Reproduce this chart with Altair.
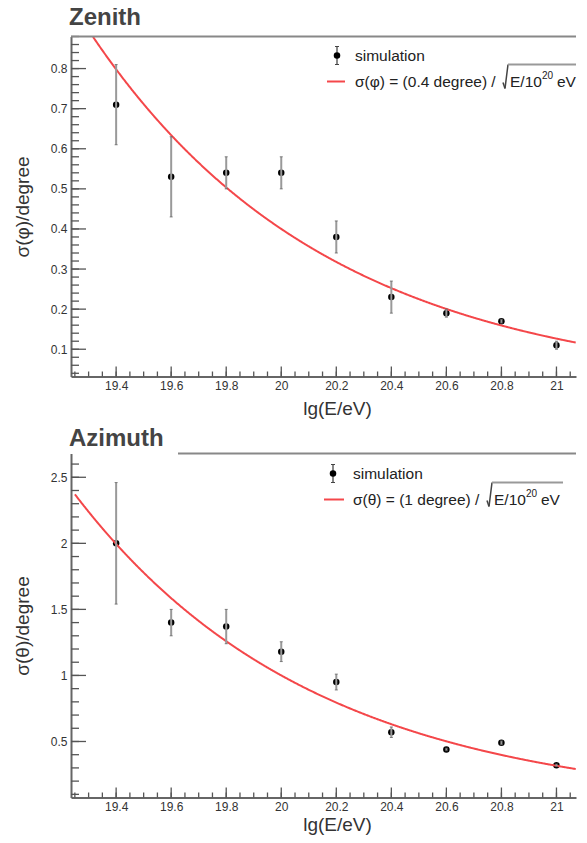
import altair as alt
import pandas as pd

# ---------------- data ----------------
energies = [19.4, 19.6, 19.8, 20.0, 20.2, 20.4, 20.6, 20.8, 21.0]

zen_sigma = [0.71, 0.53, 0.54, 0.54, 0.38, 0.23, 0.19, 0.17, 0.11]
zen_err = [0.10, 0.10, 0.04, 0.04, 0.04, 0.04, 0.01, 0.005, 0.01]

azi_sigma = [2.00, 1.40, 1.37, 1.18, 0.95, 0.57, 0.44, 0.49, 0.32]
azi_err = [0.46, 0.10, 0.13, 0.075, 0.06, 0.04, 0.01, 0.015, 0.01]

# fitted function sigma = a / sqrt(E / 1e20 eV), a in degrees (from the legend)
fit_norm = [0.4, 1.0]
fit_range = [19.25, 21.071]

# axis ticks
x_major = [19.4, 19.6, 19.8, 20.0, 20.2, 20.4, 20.6, 20.8, 21.0]
x_minor = [round(19.25 + 0.05 * i, 2) for i in range(37)]
zen_ymajor = [0.1, 0.2, 0.3, 0.4, 0.5, 0.6, 0.7, 0.8]
zen_yminor = [round(0.04 + 0.02 * i, 2) for i in range(43)]
azi_ymajor = [0.5, 1.0, 1.5, 2.0, 2.5]
azi_yminor = [round(0.1 * i, 1) for i in range(1, 27)]

x_domain = [19.236, 21.071]
zen_ydomain = [0.032, 0.88]
azi_ydomain = [0.076, 2.68]

FONT = "Liberation Sans"
W = 505
RED = "#f4474a"
AXIS_GRAY = "#666666"
TICK_GRAY = "#555555"
TXT = "#222222"


def panel(name, sig, err, norm, ydom, ymajor, yminor, ytitle, H, L, formula_head,
          xtitle_y, title_offset):
    df = pd.DataFrame({
        "lgE": energies,
        "sigma": sig,
        "lo": [s - e for s, e in zip(sig, err)],
        "hi": [s + e for s, e in zip(sig, err)],
    })
    xs = alt.Scale(domain=x_domain, nice=False, zero=False)
    ys = alt.Scale(domain=ydom, nice=False, zero=False)
    xaxis = alt.Axis(
        values=x_major, format="~g", ticks=False, tickSize=0, labelPadding=4,
        labelOverlap=False, labelFlush=False, title="lg(E/eV)", titleX=266,
        titleY=xtitle_y, titleBaseline="middle", titleAnchor="middle",
    )
    yaxis = alt.Axis(
        values=ymajor, format="~g", ticks=False, tickSize=0, labelPadding=4,
        labelOverlap=False, labelFlush=False, title=ytitle, titleX=-49,
        titleBaseline="middle",
    )

    def X(f):
        return alt.X(f, type="quantitative", scale=xs, axis=xaxis)

    def Y(f):
        return alt.Y(f, type="quantitative", scale=ys, axis=yaxis)

    # inward ticks, placed through the scales
    def xt(vals, length):
        return alt.Chart(pd.DataFrame({"v": vals})).mark_rule(color=TICK_GRAY, strokeWidth=1.3).encode(
            x=X("v"), y=alt.value(H), y2=alt.value(H - length))

    def yt(vals, length):
        return alt.Chart(pd.DataFrame({"v": vals})).mark_rule(color=TICK_GRAY, strokeWidth=1.3).encode(
            y=Y("v"), x=alt.value(0), x2=alt.value(length))

    base = alt.Chart(df)
    points = base.mark_point(filled=True, color="black", size=42, opacity=1).encode(
        x=X("lgE"), y=Y("sigma"))
    errbars = base.mark_rule(color="#999999", strokeWidth=2).encode(
        x=X("lgE"), y=Y("lo"), y2="hi")
    cap_lo = base.mark_tick(color="#555555", size=3, thickness=1, orient="horizontal").encode(
        x=X("lgE"), y=Y("lo"))
    cap_hi = base.mark_tick(color="#555555", size=3, thickness=1, orient="horizontal").encode(
        x=X("lgE"), y=Y("hi"))

    curve = alt.Chart(alt.sequence(fit_range[0], fit_range[1], 0.002, as_="lgE")).transform_calculate(
        sigma=f"{norm} / sqrt(pow(10, datum.lgE - 20))"
    ).transform_filter(
        f"datum.sigma <= {ydom[1]}"
    ).mark_line(color=RED, strokeWidth=2, clip=True).encode(x=X("lgE"), y=Y("sigma"))

    one = alt.Data(values=[{"k": 0}])

    def txt(text, x, y, size=15.5):
        return alt.Chart(one).mark_text(align="left", baseline="middle", font=FONT,
                                        fontSize=size, color=TXT, text=text).encode(
            x=alt.value(x), y=alt.value(y))

    frame_top = alt.Chart(one).mark_rule(color="#888888", strokeWidth=2).encode(
        x=alt.value(L["frame_x0"]), x2=alt.value(W), y=alt.value(0))
    leg_bar = alt.Chart(one).mark_rule(color="#888888", strokeWidth=2).encode(
        x=alt.value(L["mx"]), y=alt.value(L["my"] - 9), y2=alt.value(L["my"] + 9))
    leg_cap1 = alt.Chart(one).mark_rule(color="#444444", strokeWidth=1).encode(
        x=alt.value(L["mx"] - 2), x2=alt.value(L["mx"] + 2), y=alt.value(L["my"] - 9))
    leg_cap2 = alt.Chart(one).mark_rule(color="#444444", strokeWidth=1).encode(
        x=alt.value(L["mx"] - 2), x2=alt.value(L["mx"] + 2), y=alt.value(L["my"] + 9))
    leg_pt = alt.Chart(one).mark_point(filled=True, color="black", size=42, opacity=1).encode(
        x=alt.value(L["mx"]), y=alt.value(L["my"]))
    leg_line = alt.Chart(one).mark_rule(color=RED, strokeWidth=2).encode(
        x=alt.value(L["lx0"]), x2=alt.value(L["lx1"]), y=alt.value(L["ly"]))
    sx = L["sx"]
    ly = L["ly"]
    sq1 = alt.Chart(one).mark_rule(color="#444444", strokeWidth=1.5).encode(
        x=alt.value(sx), y=alt.value(ly + 1), x2=alt.value(sx + 2), y2=alt.value(ly + 7))
    sq2 = alt.Chart(one).mark_rule(color="#444444", strokeWidth=1.5).encode(
        x=alt.value(sx + 2), y=alt.value(ly + 7), x2=alt.value(sx + 5), y2=alt.value(ly - 17))
    sq3 = alt.Chart(one).mark_rule(color="#999999", strokeWidth=2).encode(
        x=alt.value(sx + 5), x2=alt.value(L["ox1"]), y=alt.value(ly - 17))

    return alt.layer(
        points, curve, errbars, cap_lo, cap_hi,
        xt(x_minor, 5), xt(x_major, 10), yt(yminor, 8), yt(ymajor, 15),
        frame_top,
        leg_bar, leg_cap1, leg_cap2, leg_pt, txt("simulation", L["tx"], L["my"]),
        leg_line, txt(formula_head, L["tx"], ly), sq1, sq2, sq3,
        txt("E/10", sx + 7, ly), txt("20", sx + 39, ly - 6, 10), txt("eV", sx + 54, ly),
    ).properties(
        width=W, height=H,
        title=alt.Title(name, anchor="start", frame="group", fontSize=24, fontWeight="bold",
                        font=FONT, color="#444444", dx=-2, offset=title_offset),
    )


top = panel(
    "Zenith", zen_sigma, zen_err, fit_norm[0], zen_ydomain, zen_ymajor, zen_yminor,
    "σ(φ)/degree", 340,
    dict(frame_x0=0, mx=266, my=19, tx=284, lx0=256, lx1=274, ly=45, sx=432, ox1=505),
    "σ(φ) = (0.4 degree) /", 32, 6,
)
bottom = panel(
    "Azimuth", azi_sigma, azi_err, fit_norm[1], azi_ydomain, azi_ymajor, azi_yminor,
    "σ(θ)/degree", 344,
    dict(frame_x0=107, mx=262, my=20, tx=282, lx0=253, lx1=273, ly=46, sx=416, ox1=492),
    "σ(θ) = (1 degree) /", 27, 2,
)

chart = alt.vconcat(top, bottom, spacing=77, bounds="flush").properties(
    padding={"left": 5, "top": -2.5, "right": 0, "bottom": 0}
).configure_view(stroke=None).configure_axis(
    domainColor=AXIS_GRAY, domainWidth=2,
    labelFont=FONT, labelFontSize=12, labelColor="#333333",
    titleFont=FONT, titleFontSize=19, titleColor="#333333", titleFontWeight="normal",
    grid=False,
)

chart.save("out.html", embed_options={"renderer": "svg", "actions": False})
